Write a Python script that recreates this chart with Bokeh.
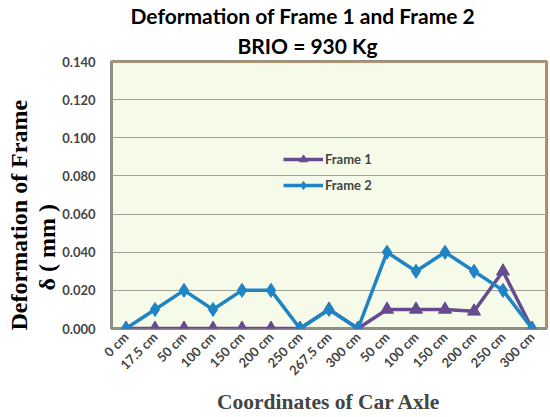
from bokeh.plotting import figure
from bokeh.models import (ColumnDataSource, FixedTicker, Title, Legend, LegendItem,
                          Span, NumeralTickFormatter, Range1d)
from bokeh.embed import file_html
from bokeh.resources import INLINE

categories = ["0 cm", "17.5 cm", "50 cm", "100 cm", "150 cm", "200 cm", "250 cm",
              "267.5 cm", "300 cm", "50 cm", "100 cm", "150 cm", "200 cm", "250 cm", "300 cm"]
frame1 = [0, 0, 0, 0, 0, 0, 0, 0.010, 0, 0.010, 0.010, 0.010, 0.009, 0.030, 0]
frame2 = [0, 0.010, 0.020, 0.010, 0.020, 0.020, 0, 0.010, 0, 0.040, 0.030, 0.040, 0.030, 0.020, 0]
y_ticks = [0.0, 0.02, 0.04, 0.06, 0.08, 0.10, 0.12, 0.14]

xs = list(range(len(categories)))
src = ColumnDataSource(dict(x=xs, f1=frame1, f2=frame2))

p = figure(width=550, height=417, output_backend="svg", toolbar_location=None,
           x_range=Range1d(-0.5, len(categories) - 0.5), y_range=Range1d(0, 0.14),
           min_border_left=111, min_border_right=4, min_border_top=61, min_border_bottom=89)

p.add_layout(Title(text="BRIO  = 930 Kg", align="left", text_font="Lato",
                   text_font_size="21px", text_font_style="bold", text_color="black",
                   standoff=7, offset=126), "above")
p.add_layout(Title(text="Deformation of Frame 1 and Frame 2", align="left", text_font="Lato",
                   text_font_size="21px", text_font_style="bold", text_color="black",
                   standoff=0, offset=19), "above")

p.background_fill_color = "#f6fbe9"
p.border_fill_color = "white"
p.outline_line_color = "#8f8f85"
p.outline_line_width = 3

p.ygrid.grid_line_color = "#a0a095"
p.ygrid.grid_line_width = 1
p.xgrid.grid_line_color = None

p.add_layout(Span(location=0.14, dimension="width", line_color="#e8904a", line_width=2))
p.add_layout(Span(location=len(categories) - 0.5, dimension="height", line_color="#e8904a", line_width=2))

l1 = p.line("x", "f1", source=src, line_color="#664b8f", line_width=3.5)
m1 = p.scatter("x", "f1", source=src, marker="triangle", size=13, fill_color="#664b8f",
               line_color="#664b8f")
l2 = p.line("x", "f2", source=src, line_color="#1f84c4", line_width=3.5)
m2 = p.scatter("x", "f2", source=src, marker="diamond", size=14, fill_color="#1f84c4",
               line_color="#1f84c4")

legend = Legend(items=[LegendItem(label="Frame 1", renderers=[l1, m1]),
                       LegendItem(label="Frame 2", renderers=[l2, m2])],
                location=(172, 133), background_fill_alpha=0, border_line_color=None,
                label_text_font="Lato", label_text_font_style="bold", label_text_font_size="13px",
                glyph_width=40, spacing=6, label_standoff=2)
p.add_layout(legend, "center")

p.xaxis.ticker = FixedTicker(ticks=xs)
p.xaxis.major_label_overrides = {i: c for i, c in enumerate(categories)}
p.xaxis.major_label_orientation = 0.785
p.xaxis.major_label_text_font = "Lato"
p.xaxis.major_label_text_font_style = "bold"
p.xaxis.major_label_text_font_size = "13px"
p.xaxis.major_label_standoff = 6
p.xaxis.axis_label = "Coordinates of Car Axle"
p.xaxis.axis_label_text_font = "Liberation Serif"
p.xaxis.axis_label_text_font_style = "bold"
p.xaxis.axis_label_text_font_size = "21.5px"
p.xaxis.axis_label_standoff = 3

p.yaxis.ticker = FixedTicker(ticks=y_ticks)
p.yaxis.formatter = NumeralTickFormatter(format="0.000")
p.yaxis.major_label_text_font = "Lato"
p.yaxis.major_label_text_font_style = "bold"
p.yaxis.major_label_text_font_size = "13px"
p.yaxis.major_label_standoff = 16

for ax in (p.xaxis, p.yaxis):
    ax.axis_line_color = None
    ax.major_tick_line_color = None
    ax.minor_tick_line_color = None
    ax.major_tick_out = 0
    ax.major_tick_in = 0

ytitle_style = dict(text_font="Liberation Serif", text_font_style="bold", text_color="black",
                    text_font_size="24px", align="left", standoff=0)
p.add_layout(Title(text="δ ( mm )", offset=38, **ytitle_style), "left")
p.add_layout(Title(text="Deformation of Frame", offset=-2, **ytitle_style), "left")

open("out.html", "w").write(file_html(p, INLINE))
